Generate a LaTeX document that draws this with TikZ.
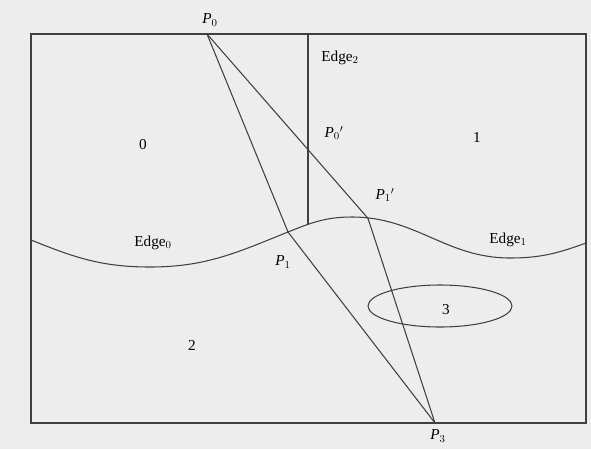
\documentclass[tikz,border=0pt]{standalone}
\usepackage{amsmath, amssymb}
\usepackage{fontspec}
\setmainfont{Liberation Serif}
\usepackage{tikz}
\usetikzlibrary{positioning}

\newcommand{\pt}[2]{\textit{P}$_{#1}$#2}

\begin{document}
\begin{tikzpicture}[
    line/.style={draw=black!75, line width=0.9pt},
    label/.style={inner sep=0pt, font=\fontsize{13}{15}\selectfont}
]
    % Фон и рамка
    \fill[black!7] (0, 0) rectangle (17.73, -13.47);
    \useasboundingbox (0, 0) rectangle (17.73, -13.47);
    \draw[line, line width=1.2pt] (0.93, -1.02) rectangle (17.58, -12.69);

    % Точки
    \coordinate (p0) at (6.21, -1.02);
    \coordinate (p1) at (8.64, -6.96);
    \coordinate (p1s) at (11.04, -6.55);
    \coordinate (p3) at (13.05, -12.69);
    \coordinate (top) at (9.24, -1.02);
    \coordinate (bot) at (9.24, -6.76);

    % Кривая Edge_0 / Edge_1
    \draw[line] (0.93, -7.20) to[out=-22, in=180] (4.50, -8.01)
        to[out=0, in=-158] (p1) to[out=22, in=180] (10.56, -6.51)
        to[out=0, in=180] (15.30, -7.74) to[out=0, in=-160] (17.58, -7.29);

    % Edge_2
    \draw[line] (top) -- (bot);

    % Область 3
    \draw[line] (13.20, -9.18) ellipse [x radius=2.16, y radius=0.63];

    % Ломаные
    \draw[line] (p0) -- (p1) -- (p3);
    \draw[line] (p0) -- (p1s) -- (p3);

    % Подписи
    \node[label] (lp0) at (6.30, -0.60) {\pt{0}{}};
    \node[label] (le2) at (10.20, -1.74) {Edge$_2$};
    \node[label] (lp0s) at (10.02, -3.99) {\pt{0}{$'$}};
    \node[label] (r0) at (4.29, -4.35) {0};
    \node[label] (r1) at (14.31, -4.11) {1};
    \node[label] (lp1s) at (11.55, -5.85) {\pt{1}{$'$}};
    \node[label] (le0) at (4.59, -7.29) {Edge$_0$};
    \node[label] (lp1) at (8.49, -7.86) {\pt{1}{}};
    \node[label] (le1) at (15.24, -7.20) {Edge$_1$};
    \node[label] (r3) at (13.38, -9.30) {3};
    \node[label] (r2) at (5.76, -10.35) {2};
    \node[label] (lp3) at (13.14, -13.08) {\pt{3}{}};
\end{tikzpicture}
\end{document}
